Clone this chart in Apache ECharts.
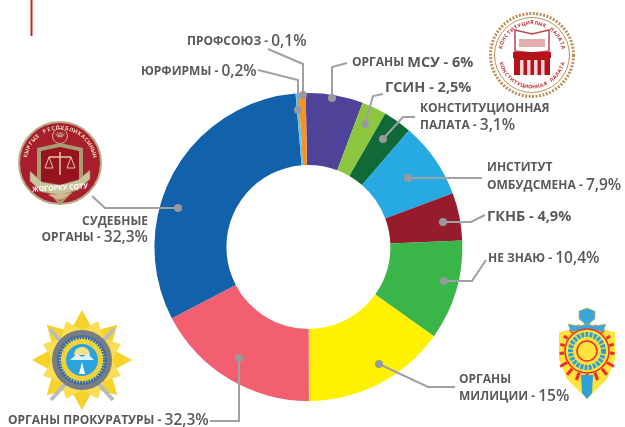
<!DOCTYPE html>
<html>
<head>
<meta charset="utf-8">
<style>
  html, body { margin: 0; padding: 0; background: #fff; }
  #chart { width: 625px; height: 427px; }
</style>
<script src="https://cdn.jsdelivr.net/npm/echarts@6/dist/echarts.min.js"></script>
</head>
<body>
<div id="chart"></div>
<script>
// slices run clockwise from the top. Widths are read off the ring, not off the labels:
// the prosecutors' label repeats 32,3% but its slice is about 17,4%
const categories = ["ОРГАНЫ МСУ", "ГСИН", "КОНСТИТУЦИОННАЯ ПАЛАТА", "ИНСТИТУТ ОМБУДСМЕНА", "ГКНБ", "НЕ ЗНАЮ", "ОРГАНЫ МИЛИЦИИ", "ОРГАНЫ ПРОКУРАТУРЫ", "СУДЕБНЫЕ ОРГАНЫ", "ЮРФИРМЫ", "ПРОФСОЮЗ"];
const sliceValues = [6.0, 2.6, 3.0, 8.0, 5.0, 10.5, 15.1, 17.4, 31.3, 0.3, 0.75];
const sliceColors = ["#4f4299", "#8dc63f", "#0f6a37", "#27a9e1", "#961b2d", "#39b54a", "#fff100", "#f25f70", "#1261ab", "#5cc3ec", "#f7941e"];

const GREY = "#58595b";
const LINE = "#a0a1a4";

const myChart = echarts.init(document.getElementById("chart"), null, { renderer: "canvas" });
const g = [];

// leader line that ends in a dot on the ring
function leader(points) {
  g.push({ type: "polyline", z: 10, shape: { points }, style: { stroke: LINE, lineWidth: 2, fill: null } });
  const d = points[points.length - 1];
  g.push({ type: "circle", z: 11, shape: { cx: d[0], cy: d[1], r: 4 }, style: { fill: "#98999c" } });
}

function label(x, y, text, align) {
  g.push({
    type: "text", z: 12, x, y,
    style: {
      text, align: align || "left", verticalAlign: "middle",
      fontFamily: "Open Sans", fontWeight: "bold", fill: GREY,
      rich: {
        n: { fontFamily: "Open Sans", fontWeight: "bold", fontSize: 12, fill: GREY },
        m: { fontFamily: "Open Sans", fontWeight: "bold", fontSize: 14.5, fill: GREY },
        v: { fontFamily: "Open Sans", fontWeight: 600, fontSize: 15.5, fill: GREY },
      },
    },
  });
}

function shape(type, sh, style, z) {
  g.push({ type, z: z || 5, shape: sh, style });
}

function star(cx, cy, n, r1, r2, rot) {
  const pts = [];
  for (let i = 0; i < n * 2; i++) {
    const a = (rot || 0) + (i * Math.PI) / n - Math.PI / 2;
    const r = i % 2 ? r2 : r1;
    pts.push([cx + r * Math.cos(a), cy + r * Math.sin(a)]);
  }
  return pts;
}

// small letters set along a circle, angles in degrees clockwise from the top
function arcText(str, cx, cy, r, from, to, size, color, inward) {
  const step = (to - from) / (str.length - 1);
  for (let i = 0; i < str.length; i++) {
    const deg = from + step * i;
    const a = (deg * Math.PI) / 180;
    g.push({
      type: "text", z: 8,
      x: cx + r * Math.sin(a), y: cy - r * Math.cos(a),
      rotation: inward ? Math.PI - a : -a,
      style: { text: str[i], align: "center", verticalAlign: "middle", fontFamily: "Open Sans", fontWeight: "bold", fontSize: size, fill: color },
    });
  }
}

function rays(cx, cy, n, r1, r2, from, to, color, width) {
  for (let i = 0; i < n; i++) {
    const a = ((from + ((to - from) * i) / (n - 1)) * Math.PI) / 180;
    shape("line", { x1: cx + r1 * Math.sin(a), y1: cy - r1 * Math.cos(a), x2: cx + r2 * Math.sin(a), y2: cy - r2 * Math.cos(a) }, { stroke: color, lineWidth: width }, 6);
  }
}

function palataEmblem(cx, cy) {
  shape("circle", { cx, cy, r: 41.5 }, { fill: "#fff", stroke: "#bb8f55", lineWidth: 3, lineDash: [2, 1.5] });
  shape("circle", { cx, cy, r: 37.5 }, { fill: "#fff", stroke: "#bb8f55", lineWidth: 1 });
  arcText("КОНСТИТУЦИЯЛЫК ПАЛАТА", cx, cy, 32, -76, 76, 5, "#c1272d");
  arcText("КОНСТИТУЦИОННАЯ ПАЛАТА", cx, cy, 32, 254, 106, 5, "#c1272d", true);
  // book
  shape("polygon", { points: [[cx - 17, cy - 25], [cx, cy - 21], [cx + 17, cy - 25], [cx + 17, cy - 4], [cx, cy - 2], [cx - 17, cy - 4]] }, { fill: "#fff", stroke: "#c1454c", lineWidth: 1.5 });
  shape("rect", { x: cx - 13, y: cy - 16, width: 26, height: 8 }, { fill: "#e3aeb0" });
  // building
  shape("rect", { x: cx - 19, y: cy - 3, width: 38, height: 6 }, { fill: "#b5121b" });
  shape("rect", { x: cx - 18, y: cy + 3, width: 36, height: 17 }, { fill: "#b5121b" });
  for (let i = 0; i < 4; i++) shape("rect", { x: cx - 12 + i * 7, y: cy + 5, width: 3.5, height: 15 }, { fill: "#f3d5d6" }, 6);
}

function courtEmblem(cx, cy) {
  shape("circle", { cx, cy, r: 41 }, { fill: "#a91e2f", stroke: "#b8ad83", lineWidth: 2 });
  arcText("КЫРГЫЗ РЕСПУБЛИКАСЫНЫН", cx, cy, 35, -78, 78, 5.5, "#e9dcb4");
  shape("circle", { cx, cy: cy - 27, r: 7.5 }, { fill: "#a91e2f", stroke: "#c8b98c", lineWidth: 1 });
  rays(cx, cy - 24, 5, 2, 7, -40, 40, "#c8b98c", 1);
  // shield
  shape("polygon", { points: [[cx - 23, cy - 15], [cx, cy - 20], [cx + 23, cy - 15], [cx + 23, cy + 18], [cx, cy + 42], [cx - 23, cy + 18]] }, { fill: "#a79c72" }, 6);
  shape("polygon", { points: [[cx - 19, cy - 12], [cx, cy - 16], [cx + 19, cy - 12], [cx + 19, cy + 18], [cx, cy + 38], [cx - 19, cy + 18]] }, { fill: "#96131f" }, 6);
  // scales
  shape("line", { x1: cx, y1: cy - 11, x2: cx, y2: cy + 12 }, { stroke: "#e0c9a0", lineWidth: 1.5 }, 7);
  shape("line", { x1: cx - 11, y1: cy - 6, x2: cx + 11, y2: cy - 6 }, { stroke: "#e0c9a0", lineWidth: 1.5 }, 7);
  shape("polyline", { points: [[cx - 15, cy + 5], [cx - 11, cy - 6], [cx - 7, cy + 5], [cx - 15, cy + 5]] }, { stroke: "#e0c9a0", lineWidth: 1, fill: null }, 7);
  shape("polyline", { points: [[cx + 7, cy + 5], [cx + 11, cy - 6], [cx + 15, cy + 5], [cx + 7, cy + 5]] }, { stroke: "#e0c9a0", lineWidth: 1, fill: null }, 7);
  // ribbon
  shape("polygon", { points: [[cx - 30, cy + 8], [cx - 18, cy + 19], [cx, cy + 22], [cx + 18, cy + 17], [cx + 30, cy + 7], [cx + 30, cy + 16], [cx + 18, cy + 27], [cx, cy + 32], [cx - 18, cy + 29], [cx - 30, cy + 18]] }, { fill: "#c9c49c", stroke: "#8a8460", lineWidth: 0.5 }, 7);
  g.push({ type: "text", z: 8, x: cx, y: cy + 25, rotation: 0.06, style: { text: "ЖОГОРКУ СОТУ", align: "center", verticalAlign: "middle", fontFamily: "Open Sans", fontWeight: "bold", fontSize: 7, fill: "#fff" } });
  shape("polygon", { points: [[cx - 12, cy + 32], [cx + 12, cy + 30], [cx, cy + 37]] }, { fill: "#d6b98c" }, 7);
}

function prosecutorEmblem(cx, cy) {
  shape("polygon", { points: star(cx, cy, 8, 50, 31) }, { fill: "#f6d32b" });
  shape("polygon", { points: star(cx, cy, 8, 42, 30, Math.PI / 8) }, { fill: "#f9dd52" });
  // swords
  shape("line", { x1: cx - 32, y1: cy - 31, x2: cx + 31, y2: cy + 40 }, { stroke: "#b9bbbd", lineWidth: 4 }, 6);
  shape("line", { x1: cx + 32, y1: cy - 31, x2: cx - 31, y2: cy + 40 }, { stroke: "#b9bbbd", lineWidth: 4 }, 6);
  shape("circle", { cx, cy: cy, r: 30 }, { fill: "#777c85" }, 7);
  shape("circle", { cx, cy: cy, r: 23 }, { fill: "#f1d23a", stroke: "#2f6db0", lineWidth: 4, lineDash: [2, 1] }, 7);
  shape("circle", { cx, cy: cy, r: 16 }, { fill: "#2aa3de" }, 7);
  shape("sector", { cx, cy: cy - 5, r: 8, startAngle: Math.PI, endAngle: 0 }, { fill: "#f6e08a" }, 8);
  shape("polygon", { points: [[cx - 12, cy], [cx - 5, cy - 6], [cx, cy - 3], [cx + 6, cy - 6], [cx + 12, cy]] }, { fill: "#dff1fa" }, 8);
  shape("polygon", { points: [[cx - 3, cy + 14], [cx, cy + 2], [cx + 3, cy + 14]] }, { fill: "#fff" }, 8);
}

function militiaEmblem(cx, cy) {
  // shield
  shape("polygon", { points: [[cx - 28, cy - 19], [cx, cy - 24], [cx + 28, cy - 19], [cx + 28, cy + 8], [cx + 20, cy + 28], [cx, cy + 48], [cx - 20, cy + 28], [cx - 28, cy + 8]] }, { fill: "#ffe33a" });
  rays(cx, cy, 11, 23, 27.5, -95, 95, "#ee2b2e", 3);
  rays(cx, cy, 7, 23, 31, 120, 240, "#ee2b2e", 3);
  shape("polygon", { points: [[cx - 6, cy + 24], [cx + 6, cy + 24], [cx + 5, cy + 42], [cx, cy + 48], [cx - 5, cy + 42]] }, { fill: "#2f9fd8" }, 7);
  // handle and guard
  shape("polygon", { points: [[cx, cy - 43], [cx + 8, cy - 40], [cx + 8, cy - 32], [cx + 3, cy - 28], [cx + 3, cy - 24], [cx - 3, cy - 24], [cx - 3, cy - 28], [cx - 8, cy - 32], [cx - 8, cy - 40]] }, { fill: "#3aa6dc", stroke: "#e8b62a", lineWidth: 0.6 }, 6);
  shape("polygon", { points: [[cx - 19, cy - 27], [cx - 8, cy - 25], [cx, cy - 27], [cx + 8, cy - 25], [cx + 19, cy - 27], [cx + 16, cy - 19], [cx, cy - 22], [cx - 16, cy - 19]] }, { fill: "#3aa6dc", stroke: "#e8b62a", lineWidth: 0.6 }, 6);
  // wheel
  shape("circle", { cx, cy, r: 22 }, { fill: "#ffe33a", stroke: "#ee2b2e", lineWidth: 1.5 }, 7);
  shape("circle", { cx, cy, r: 16.5 }, { fill: "none", stroke: "#2f9fd8", lineWidth: 5, lineDash: [3, 1.2] }, 7);
  shape("circle", { cx, cy, r: 10 }, { fill: "#ffe33a", stroke: "#ee2b2e", lineWidth: 1.5 }, 7);
  rays(cx, cy, 8, 0, 10, 0, 315, "#ee2b2e", 1);
}

palataEmblem(532, 55);
courtEmblem(60, 163);
prosecutorEmblem(82, 360);
militiaEmblem(587, 351);

// red rule in the top left corner
shape("line", { x1: 31.5, y1: 0, x2: 31.5, y2: 36 }, { stroke: "#c8202f", lineWidth: 2 });

leader([[268, 49], [303, 64], [303, 95]]);
leader([[258, 70], [298, 80], [298, 110]]);
leader([[347, 63], [332, 67], [332, 98]]);
leader([[383, 94], [373, 96], [365, 124]]);
leader([[415, 117], [403, 117], [383, 139]]);
leader([[482, 178], [408, 178]]);
leader([[485, 215], [471, 222], [443, 222]]);
leader([[486, 260], [472, 281], [444, 281]]);
leader([[455, 387], [428, 387], [379, 364]]);
leader([[210, 421], [239, 421], [239, 358]]);
leader([[92, 196], [105, 208], [178, 208]]);

label(187, 42, "{n|ПРОФСОЮЗ - }{v|0,1%}");
label(141, 72, "{n|ЮРФИРМЫ - }{v|0,2%}");
label(352, 63, "{n|ОРГАНЫ }{m|МСУ - 6%}");
label(385, 88, "{m|ГСИН - 2,5%}");
label(420, 109, "{n|КОНСТИТУЦИОННАЯ}");
label(420, 126, "{n|ПАЛАТА - }{v|3,1%}");
label(487, 168, "{n|ИНСТИТУТ}");
label(487, 186, "{n|ОМБУДСМЕНА - }{v|7,9%}");
label(487, 217, "{m|ГКНБ - 4,9%}");
label(488, 259, "{n|НЕ ЗНАЮ - }{v|10,4%}");
label(459, 380, "{n|ОРГАНЫ}");
label(459, 397, "{n|МИЛИЦИИ - }{v|15%}");
label(148, 222, "{n|СУДЕБНЫЕ}", "right");
label(148, 238, "{n|ОРГАНЫ - }{v|32,3%}", "right");
label(8, 421, "{n|ОРГАНЫ ПРОКУРАТУРЫ - }{v|32,3%}");

myChart.setOption({
  animation: false,
  backgroundColor: "#fff",
  color: sliceColors,
  series: [
    {
      type: "pie",
      center: [308.4, 247],
      radius: [82, 154],
      startAngle: 91,
      silent: true,
      label: { show: false },
      labelLine: { show: false },
      data: categories.map((name, i) => ({ name, value: sliceValues[i] })),
    },
  ],
  graphic: { elements: g },
});
</script>
</body>
</html>
